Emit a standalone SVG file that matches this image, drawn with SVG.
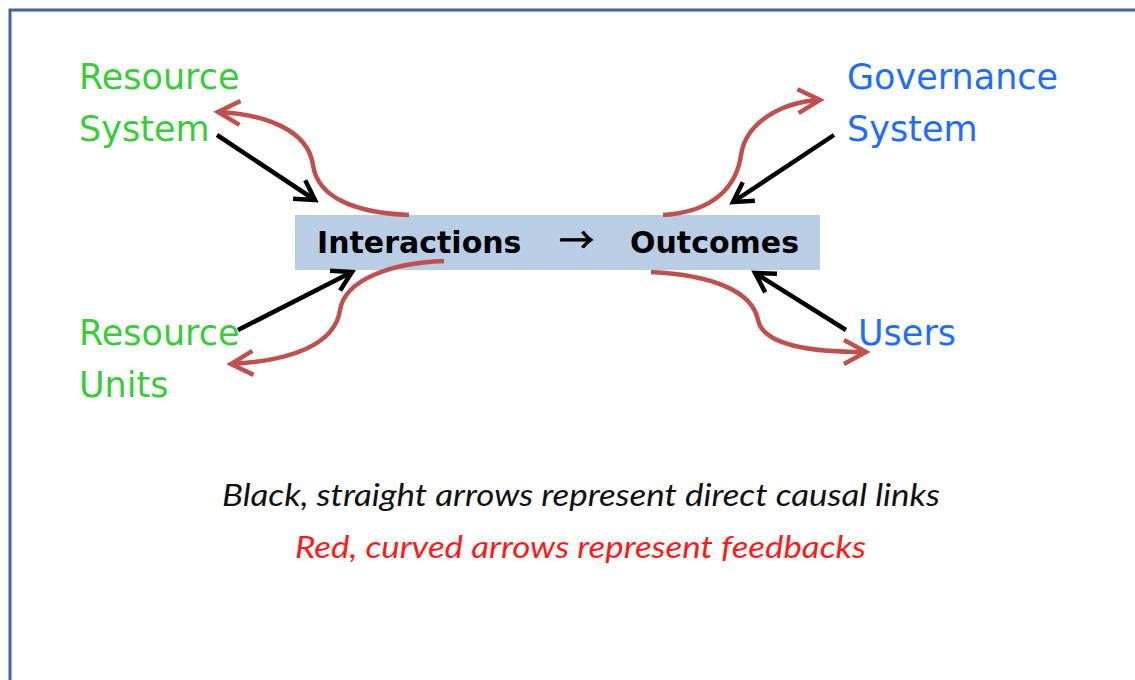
<svg xmlns="http://www.w3.org/2000/svg" width="1135" height="680" viewBox="0 0 1135 680">
<style>
.lbl{font-family:"DejaVu Sans","Verdana",sans-serif;font-size:35px}
.green{fill:#38cc38}
.blue{fill:#1f6cff}
.box{fill:#b9cde5}
.boxt{font-family:"DejaVu Sans",sans-serif;font-size:30px;font-weight:bold;fill:#000}
.cap{font-family:"Lato","Liberation Sans",sans-serif;font-style:italic;font-size:31px}
.blk{fill:none;stroke:#000;stroke-width:4.5}
.red{fill:none;stroke:#c0504d;stroke-width:4.5}
</style>
<defs>
<marker id="hb" markerUnits="userSpaceOnUse" markerWidth="40" markerHeight="40" refX="0" refY="0" orient="auto" overflow="visible">
<path d="M-19,-11 L0,0 L-19,11" fill="none" stroke="#000" stroke-width="4.5" stroke-linejoin="miter"/>
</marker>
<marker id="hr" markerUnits="userSpaceOnUse" markerWidth="40" markerHeight="40" refX="0" refY="0" orient="auto" overflow="visible">
<path d="M-22,-12 L0,0 L-22,12" fill="none" stroke="#c0504d" stroke-width="4.5" stroke-linejoin="miter"/>
</marker>
</defs>
<rect x="0" y="0" width="1135" height="680" fill="#fff"/>
<rect x="10" y="10" width="1140" height="690" fill="none" stroke="#41669a" stroke-width="3"/>

<g id="core">
<rect class="box" x="295" y="215" width="525" height="55"/>
<text class="boxt" x="317" y="253">Interactions</text>
<text x="559" y="253" font-family="Noto Sans CJK JP,sans-serif" font-size="35px" fill="#000" stroke="#000" stroke-width="0.8">→</text>
<text class="boxt" x="630" y="253">Outcomes</text>
</g>

<g id="resource-system"><text class="lbl green" x="79" y="89">Resource</text><text class="lbl green" x="79" y="141">System</text></g>
<g id="resource-units"><text class="lbl green" x="79" y="345">Resource</text><text class="lbl green" x="79" y="397">Units</text></g>
<g id="governance-system"><text class="lbl blue" x="847" y="89">Governance</text><text class="lbl blue" x="847" y="141">System</text></g>
<g id="users"><text class="lbl blue" x="858" y="345">Users</text></g>

<g id="connectors">
<path class="blk" d="M217,135 L315,200" marker-end="url(#hb)"/>
<path class="blk" d="M238,330 L352,272" marker-end="url(#hb)"/>
<path class="blk" d="M834,135 L733,202" marker-end="url(#hb)"/>
<path class="blk" d="M846,330 L755,273" marker-end="url(#hb)"/>
<path class="red" d="M409,215 C360,213 318,200 313,165 C308,130 265,114 218,112" marker-end="url(#hr)"/>
<path class="red" d="M444,261 C390,263 345,280 340,310 C335,345 290,361 231,364" marker-end="url(#hr)"/>
<path class="red" d="M663,215 C715,212 737,185 741,155 C746,122 782,102 820,100" marker-end="url(#hr)"/>
<path class="red" d="M651,272 C710,275 752,290 758,320 C764,348 820,352 866,352" marker-end="url(#hr)"/>
</g>

<g id="legend">
<text class="cap" x="222" y="506" fill="#111" textLength="718" lengthAdjust="spacingAndGlyphs">Black, straight arrows represent direct causal links</text>
<text class="cap" x="295" y="558" fill="#ff1a1a" textLength="571" lengthAdjust="spacingAndGlyphs">Red, curved arrows represent feedbacks</text>
</g>
</svg>
